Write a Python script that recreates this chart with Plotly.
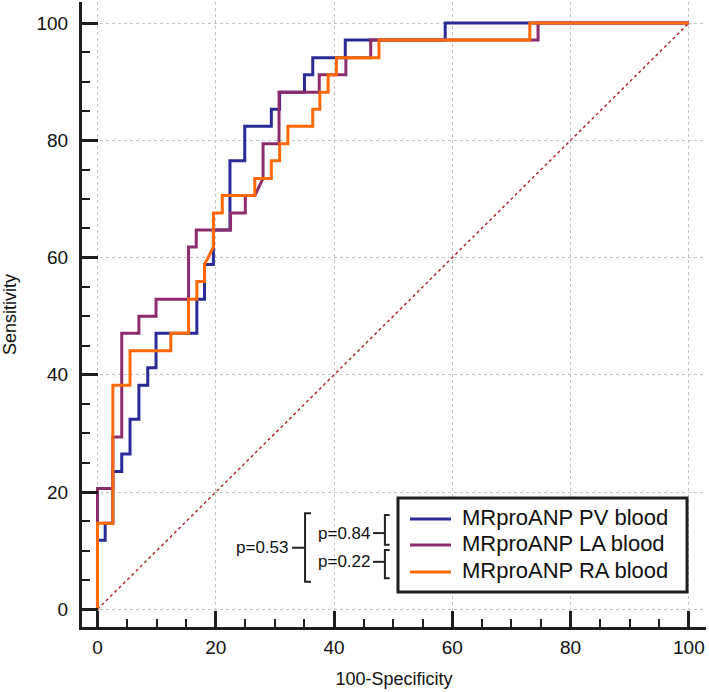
import plotly.graph_objects as go

# ROC vertices (100-Specificity, Sensitivity)
pv_x = [0, 0, 1.3, 1.3, 2.6, 2.6, 4.1, 4.1, 5.5, 5.5, 7.0, 7.0, 8.5, 8.5, 9.9, 9.9,
        16.8, 16.8, 18.1, 18.1, 19.6, 19.6, 22.4, 22.4, 24.9, 24.9, 29.4, 29.4,
        30.8, 30.8, 35.0, 35.0, 36.4, 36.4, 41.9, 41.9, 58.8, 58.8, 100]
pv_y = [0, 11.8, 11.8, 14.7, 14.7, 23.5, 23.5, 26.5, 26.5, 32.4, 32.4, 38.2, 38.2, 41.2, 41.2, 47.1,
        47.1, 52.9, 52.9, 58.8, 58.8, 64.7, 64.7, 76.5, 76.5, 82.4, 82.4, 85.3,
        85.3, 88.2, 88.2, 91.2, 91.2, 94.1, 94.1, 97.1, 97.1, 100, 100]

la_x = [0, 0, 2.6, 2.6, 4.1, 4.1, 7.0, 7.0, 9.9, 9.9, 15.4, 15.4, 16.7, 16.7, 22.5, 22.5,
        25.0, 25.0, 26.6, 28.0, 28.0, 30.7, 30.7, 37.5, 37.5, 42.0, 42.0, 46.2, 46.2,
        74.5, 74.5, 100]
la_y = [0, 20.6, 20.6, 29.4, 29.4, 47.1, 47.1, 50.0, 50.0, 52.9, 52.9, 61.8, 61.8, 64.7, 64.7, 67.6,
        67.6, 70.6, 70.6, 73.5, 79.4, 79.4, 88.2, 88.2, 91.2, 91.2, 94.1, 94.1, 97.1,
        97.1, 100, 100]

ra_x = [0, 0, 2.6, 2.6, 5.5, 5.5, 12.4, 12.4, 15.4, 15.4, 16.8, 16.8, 18.1, 18.1, 19.6, 19.6,
        21.1, 21.1, 26.6, 26.6, 29.4, 29.4, 30.8, 30.8, 32.2, 32.2, 36.4, 36.4, 37.6, 37.6,
        39.0, 39.0, 40.4, 40.4, 47.6, 47.6, 73.1, 73.1, 100]
ra_y = [0, 14.7, 14.7, 38.2, 38.2, 44.1, 44.1, 47.1, 47.1, 52.9, 52.9, 55.9, 55.9, 58.8, 61.8, 67.6,
        67.6, 70.6, 70.6, 73.5, 73.5, 76.5, 76.5, 79.4, 79.4, 82.4, 82.4, 85.3, 85.3, 88.2,
        88.2, 91.2, 91.2, 94.1, 94.1, 97.1, 97.1, 100, 100]

series_names = ["MRproANP PV blood", "MRproANP LA blood", "MRproANP RA blood"]
series_colors = ["#2B2B98", "#8C2C6C", "#FF6A06"]

ref_x = [0, 100]
ref_y = [0, 100]

p_labels = ["p=0.53", "p=0.84", "p=0.22"]
x_ticks = [0, 20, 40, 60, 80, 100]
y_ticks = [0, 20, 40, 60, 80, 100]

FONT = "Liberation Sans, Arial, sans-serif"
AX = "#1E1E1E"

fig = go.Figure()
fig.add_trace(go.Scatter(x=ref_x, y=ref_y, mode="lines", showlegend=False,
                         line=dict(color="#B0282E", width=1.5, dash="dot"), hoverinfo="skip"))
for xs, ys, nm, col in zip([pv_x, la_x, ra_x], [pv_y, la_y, ra_y], series_names, series_colors):
    fig.add_trace(go.Scatter(x=xs, y=ys, mode="lines", name=nm, showlegend=False,
                             line=dict(color=col, width=3)))

axis_common = dict(
    showline=True, linewidth=3, linecolor=AX, mirror=False,
    ticks="inside", ticklen=16, tickwidth=3, tickcolor=AX,
    showgrid=True, gridcolor="#C4C4C4", gridwidth=1, griddash="dot",
    zeroline=False, dtick=20, tick0=0,
    tickfont=dict(family=FONT, size=19, color="#111"),
    minor=dict(ticks="inside", ticklen=8, tickwidth=2, tickcolor=AX, dtick=5, tick0=0, showgrid=False),
)

fig.update_xaxes(range=[-2.62, 102.9], tickvals=x_ticks, ticklabelstandoff=1,
                 title=dict(text="100-Specificity", font=dict(family=FONT, size=18, color="#111"), standoff=16),
                 **axis_common)
fig.update_yaxes(range=[-3.02, 103.6], tickvals=y_ticks, ticklabelstandoff=7,
                 title=dict(text="Sensitivity", font=dict(family=FONT, size=18, color="#111"), standoff=20),
                 **axis_common)

bcol = "#222"
shapes = []
annotations = []
def path(pts):
    return "M " + " L ".join(f"{a},{b}" for a, b in pts)

# p-value brackets
shapes.append(dict(type="path", xref="x", yref="y", line=dict(color=bcol, width=2),
                   path=path([(36.1, 16.4), (35.1, 16.4), (35.1, 4.7), (36.1, 4.7)])))
shapes.append(dict(type="line", xref="x", yref="y", x0=32.9, x1=35.1, y0=10.5, y1=10.5,
                   line=dict(color=bcol, width=2)))
for top, bot, mid in [(16.1, 11.0, 13.0), (10.1, 5.3, 8.1)]:
    shapes.append(dict(type="path", xref="x", yref="y", line=dict(color=bcol, width=2),
                       path=path([(49.4, top), (48.6, top), (48.6, bot), (49.4, bot)])))
    shapes.append(dict(type="line", xref="x", yref="y", x0=46.6, x1=48.6, y0=mid, y1=mid,
                       line=dict(color=bcol, width=2)))

for (px, py, txt) in [(32.6, 10.5, p_labels[0]), (46.4, 13.0, p_labels[1]), (46.4, 8.1, p_labels[2])]:
    annotations.append(dict(x=px, y=py, xref="x", yref="y", text=txt, showarrow=False, xanchor="right",
                            font=dict(family=FONT, size=17, color="#111")))

# legend box (paper coordinates)
shapes.append(dict(type="rect", xref="paper", yref="paper", x0=0.5064, x1=0.9696, y0=0.056, y1=0.2064,
                   fillcolor="white", line=dict(color=AX, width=3), layer="above"))
line_rows = [0.1728, 0.1312, 0.0880]
text_rows = [0.1760, 0.1344, 0.0912]
for nm, col, ly, ty in zip(series_names, series_colors, line_rows, text_rows):
    shapes.append(dict(type="line", xref="paper", yref="paper", x0=0.5256, x1=0.5913, y0=ly, y1=ly,
                       line=dict(color=col, width=3), layer="above"))
    annotations.append(dict(x=0.6058, y=ty, xref="paper", yref="paper", text=nm, showarrow=False,
                            xanchor="left", yanchor="middle",
                            font=dict(family=FONT, size=22, color="#111")))

fig.update_layout(
    width=709, height=692,
    margin=dict(l=82, r=3, t=2, b=65, autoexpand=False),
    plot_bgcolor="white", paper_bgcolor="white",
    shapes=shapes, annotations=annotations,
    showlegend=False,
)

fig.write_html("out.html", config={"displayModeBar": False},
               post_script="document.body.style.margin='0';")
